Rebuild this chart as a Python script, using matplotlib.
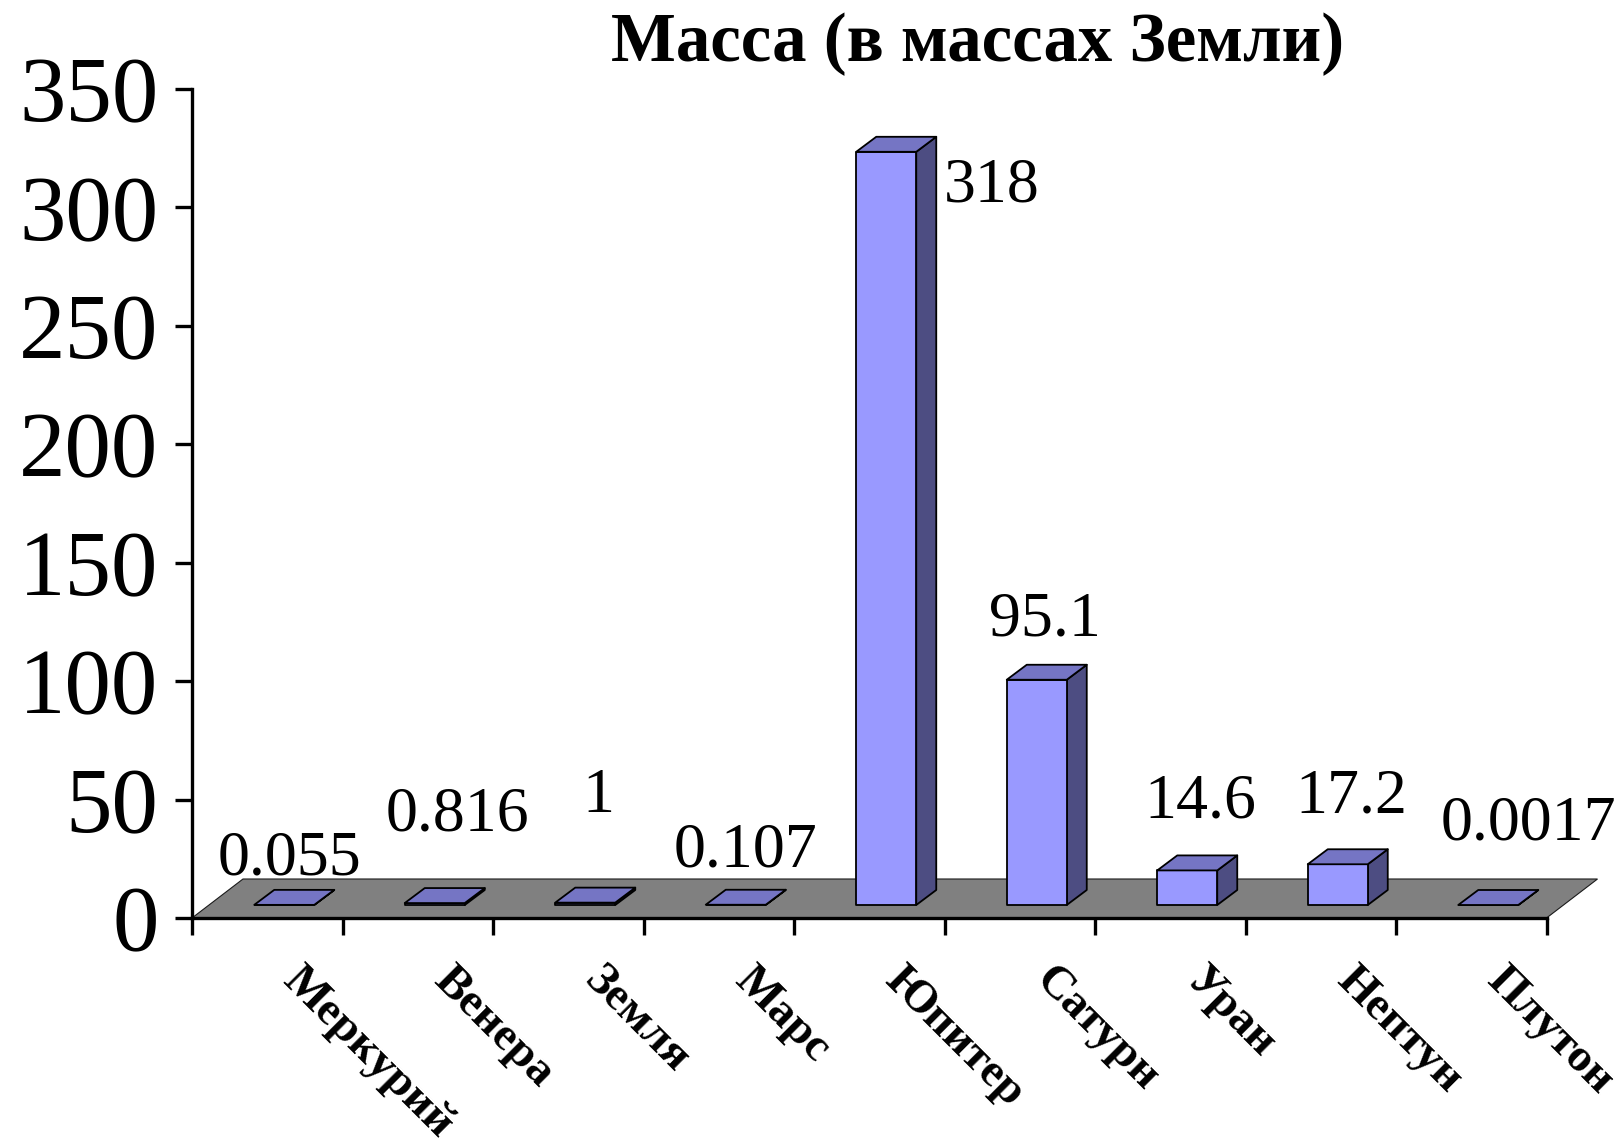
import matplotlib
matplotlib.use("Agg")
import matplotlib.pyplot as plt
from matplotlib.patches import Polygon

# --- data -------------------------------------------------------------
planets = ["Меркурий", "Венера", "Земля", "Марс", "Юпитер",
           "Сатурн", "Уран", "Нептун", "Плутон"]
masses = [0.055, 0.816, 1, 0.107, 318, 95.1, 14.6, 17.2, 0.0017]
value_labels = ["0.055", "0.816", "1", "0.107", "318", "95.1", "14.6", "17.2", "0.0017"]
y_ticks = [0, 50, 100, 150, 200, 250, 300, 350]
title = "Масса (в массах Земли)"

# label offsets from the top-front centre of each bar (pixels: right, up)
label_dx = [5, 23, 13, 10, 105, 8, 13, 14, 40]
label_dy = [30, 73, 91, 38, -50, 44, 53, 52, 65]

# --- layout -------------------------------------------------------------
W, H, DPI = 1622, 1143, 100
fig = plt.figure(figsize=(W / DPI, H / DPI), dpi=DPI)
fig.patch.set_facecolor("white")

ax_left, ax_right = 192, 1546.5
ax_bottom, ax_top = 918, 89
ax = fig.add_axes([ax_left / W, 1 - ax_bottom / H,
                   (ax_right - ax_left) / W, (ax_bottom - ax_top) / H])
n = len(planets)
ymax = 350
ax.set_xlim(0, n)
ax.set_ylim(0, ymax)
ax.set_facecolor("none")

px_x = (ax_right - ax_left) / n          # pixels per category
px_y = (ax_bottom - ax_top) / ymax       # pixels per unit


def dxu(p):
    return p / px_x


def dyu(p):
    return p / px_y


serif = "Liberation Serif"

# floor of the 3-D plot area
floor_dx, floor_dy = dxu(51), dyu(39)
floor = Polygon([(0, 0), (n, 0), (n + floor_dx, floor_dy), (floor_dx, floor_dy)],
                closed=True, facecolor="#808080", edgecolor="#1a1a1a",
                linewidth=0.8, clip_on=False, zorder=1)
ax.add_patch(floor)

# 3-D bars
off_x, off_y = dxu(17), dyu(13)
bar_w = dxu(60)
dep_x, dep_y = dxu(20), dyu(15)
c_front, c_top, c_side = "#9999FF", "#7575C4", "#4D4D82"
lw = 1.3

for i, v in enumerate(masses):
    cx = i + 0.5 + off_x
    x0, x1 = cx - bar_w / 2, cx + bar_w / 2
    y0, y1 = off_y, off_y + v
    side = Polygon([(x1, y0), (x1 + dep_x, y0 + dep_y), (x1 + dep_x, y1 + dep_y), (x1, y1)],
                   closed=True, facecolor=c_side, edgecolor="black", linewidth=lw,
                   clip_on=False, zorder=3, joinstyle="round")
    front = Polygon([(x0, y0), (x1, y0), (x1, y1), (x0, y1)],
                    closed=True, facecolor=c_front, edgecolor="black", linewidth=lw,
                    clip_on=False, zorder=3, joinstyle="round")
    top = Polygon([(x0, y1), (x1, y1), (x1 + dep_x, y1 + dep_y), (x0 + dep_x, y1 + dep_y)],
                  closed=True, facecolor=c_top, edgecolor="black", linewidth=lw,
                  clip_on=False, zorder=4, joinstyle="round")
    ax.add_patch(side)
    ax.add_patch(front)
    ax.add_patch(top)

    ax.annotate(value_labels[i], xy=(cx, y1), xytext=(label_dx[i], label_dy[i]),
                textcoords="offset pixels", ha="center", va="baseline",
                fontsize=46, family=serif, color="black", zorder=6,
                annotation_clip=False)

# axes: spines and ticks
for s in ("top", "right"):
    ax.spines[s].set_visible(False)
for s in ("left", "bottom"):
    ax.spines[s].set_linewidth(2.4)
    ax.spines[s].set_zorder(5)
ax.set_yticks(y_ticks)
ax.set_yticklabels([str(t) for t in y_ticks], family=serif, fontsize=67)
ax.set_xticks(range(n + 1))
ax.set_xticklabels([])
ax.tick_params(axis="both", direction="out", length=12.2, width=2.4, color="black")
ax.tick_params(axis="y", pad=12)

# category labels, rotated
for i, name in enumerate(planets):
    ax.annotate(name, xy=(i + 0.5, 0), xytext=(37, -41), textcoords="offset pixels",
                rotation=-45, rotation_mode="anchor", ha="left", va="top",
                fontsize=34, fontweight="bold", family=serif, annotation_clip=False)

fig.text(978 / W, 1 - 61 / H, title, ha="center", va="baseline",
         fontsize=49.5, fontweight="bold", family=serif)

fig.savefig("out.png", dpi=DPI, facecolor="white")
